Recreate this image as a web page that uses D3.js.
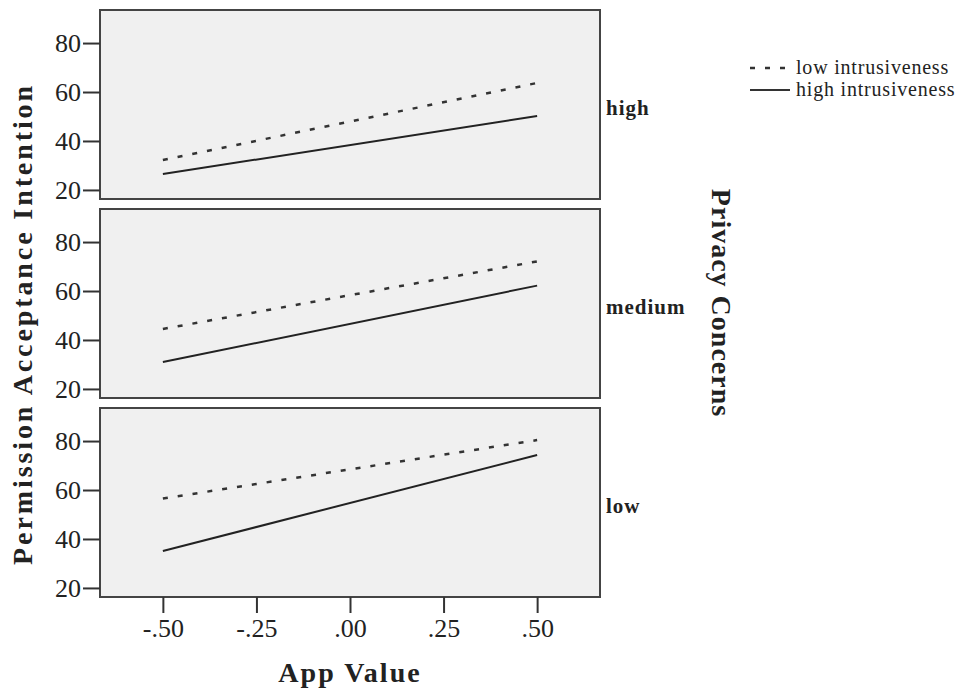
<!DOCTYPE html>
<html>
<head>
<meta charset="utf-8">
<script src="https://cdn.jsdelivr.net/npm/d3@7"></script>
<style>
  body { margin: 0; background: #fff; }
  text { font-family: "Liberation Serif", "DejaVu Serif", serif; fill: #222; }
</style>
</head>
<body>
<div id="chart"></div>
<script>
// App Value at the two ends of each fitted line
const appValues = [-0.5, 0.5]
// Privacy Concerns panels, top to bottom
const concernLevels = ['high', 'medium', 'low']
// Permission Acceptance Intention per panel, [at -.50, at .50]
const lowIntrusiveness = [[32.2, 63.7], [44.5, 72.1], [56.5, 80.4]]
const highIntrusiveness = [[26.5, 50.2], [31.0, 62.2], [35.1, 74.3]]
const yTicks = [20, 40, 60, 80]
const xTicks = [-0.5, -0.25, 0, 0.25, 0.5]
const seriesNames = ['low intrusiveness', 'high intrusiveness']

const width = 960
const height = 688
const panel = { left: 100, width: 500, height: 189, tops: [10, 209, 408] }

const svg = d3.select('#chart').append('svg')
  .attr('width', width)
  .attr('height', height)

const x = d3.scaleLinear().domain([-0.668, 0.668]).range([0, panel.width])
const y = d3.scaleLinear().domain([16.3, 93.5]).range([panel.height, 0])

// SPSS style: -.50, .00, .25 with a plain hyphen
const fmtX = d => (d < 0 ? '-' : '') + d3.format('.2f')(Math.abs(d)).replace('0.', '.')

const line = d3.line()
  .x(d => x(d[0]))
  .y(d => y(d[1]))

concernLevels.forEach((level, i) => {
  const g = svg.append('g')
    .attr('transform', `translate(${panel.left},${panel.tops[i]})`)

  g.append('rect')
    .attr('width', panel.width)
    .attr('height', panel.height)
    .attr('fill', '#f0f0f0')
    .attr('stroke', '#444')
    .attr('stroke-width', 2)

  const yAxis = g.append('g')
    .call(d3.axisLeft(y).tickValues(yTicks).tickSize(17).tickPadding(2))
  yAxis.select('.domain').remove()
  yAxis.selectAll('line').attr('stroke', '#333').attr('stroke-width', 2)
  yAxis.selectAll('text')
    .attr('font-size', 26)
    .attr('font-family', '"Liberation Serif", serif')
    .attr('fill', '#333')

  // dashed = low intrusiveness, solid = high intrusiveness
  g.append('path')
    .datum(appValues.map((v, j) => [v, lowIntrusiveness[i][j]]))
    .attr('d', line)
    .attr('fill', 'none')
    .attr('stroke', '#333')
    .attr('stroke-width', 2.5)
    .attr('stroke-dasharray', '5,10')

  g.append('path')
    .datum(appValues.map((v, j) => [v, highIntrusiveness[i][j]]))
    .attr('d', line)
    .attr('fill', 'none')
    .attr('stroke', '#222')
    .attr('stroke-width', 2)

  g.append('text')
    .attr('x', panel.width + 6)
    .attr('y', panel.height / 2 + 10)
    .attr('font-size', 21)
    .attr('font-weight', 'bold')
    .attr('letter-spacing', 1)
    .attr('fill', '#111')
    .text(level)

  if (i === concernLevels.length - 1) {
    const xAxis = g.append('g')
      .attr('transform', `translate(0,${panel.height})`)
      .call(d3.axisBottom(x).tickValues(xTicks).tickFormat(fmtX).tickSize(16).tickPadding(6))
    xAxis.select('.domain').remove()
    xAxis.selectAll('line').attr('stroke', '#333').attr('stroke-width', 2)
    xAxis.selectAll('text')
      .attr('font-size', 26)
      .attr('font-family', '"Liberation Serif", serif')
      .attr('fill', '#333')
  }
})

// axis titles
svg.append('text')
  .attr('x', panel.left + x(0))
  .attr('y', 682)
  .attr('text-anchor', 'middle')
  .attr('font-size', 28)
  .attr('font-weight', 'bold')
  .attr('letter-spacing', 2)
  .attr('fill', '#111')
  .text('App Value')

svg.append('text')
  .attr('transform', 'translate(32,324) rotate(-90)')
  .attr('text-anchor', 'middle')
  .attr('font-size', 28)
  .attr('font-weight', 'bold')
  .attr('letter-spacing', 2.9)
  .attr('fill', '#111')
  .text('Permission Acceptance Intention')

svg.append('text')
  .attr('transform', 'translate(712,303) rotate(90)')
  .attr('text-anchor', 'middle')
  .attr('font-size', 28)
  .attr('font-weight', 'bold')
  .attr('letter-spacing', 1)
  .attr('fill', '#111')
  .text('Privacy Concerns')

// legend
const legend = svg.append('g').attr('transform', 'translate(750,68)')
seriesNames.forEach((name, i) => {
  const row = legend.append('g').attr('transform', `translate(0,${i * 22})`)
  row.append('line')
    .attr('x1', 0).attr('x2', i === 0 ? 36 : 40)
    .attr('stroke', '#333')
    .attr('stroke-width', i === 0 ? 2.5 : 2)
    .attr('stroke-dasharray', i === 0 ? '5,10' : null)
  row.append('text')
    .attr('x', 46)
    .attr('y', 6)
    .attr('font-size', 20)
    .attr('letter-spacing', 0.8)
    .attr('fill', '#222')
    .text(name)
})
</script>
</body>
</html>
